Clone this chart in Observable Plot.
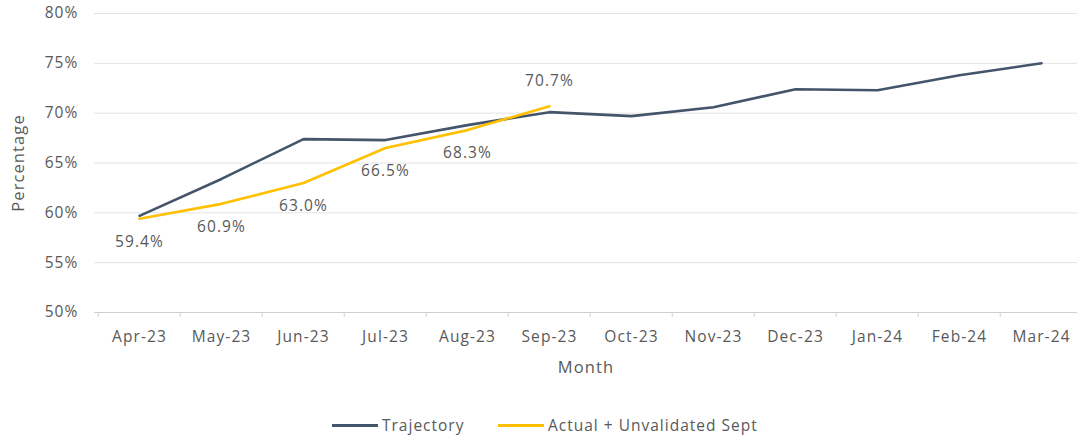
<!DOCTYPE html>
<html>
<head>
<meta charset="utf-8">
<script src="https://cdn.jsdelivr.net/npm/d3@7"></script>
<script src="https://cdn.jsdelivr.net/npm/@observablehq/plot@0.6"></script>
<style>
  body { margin: 0; background: #fff; font-family: "Open Sans", sans-serif; }
  #chart { width: 1077px; }
  #legend { position: relative; width: 1077px; height: 38px; font-size: 15.5px; color: #595959; letter-spacing: 1px; }
  #legend .item { position: absolute; top: 12px; display: flex; align-items: center; height: 26px; white-space: nowrap; }
  #legend .sw { display: inline-block; width: 46px; height: 3px; margin-right: 4px; }
</style>
</head>
<body>
<div id="chart"></div>
<div id="legend"></div>
<script>
const months = ["Apr-23","May-23","Jun-23","Jul-23","Aug-23","Sep-23","Oct-23","Nov-23","Dec-23","Jan-24","Feb-24","Mar-24"];
const trajectory = [59.7, 63.4, 67.4, 67.3, 68.8, 70.1, 69.7, 70.6, 72.4, 72.3, 73.8, 75.0];
const actual = [59.4, 60.9, 63.0, 66.5, 68.3, 70.7];
const yTicks = [50, 55, 60, 65, 70, 75, 80];
const seriesNames = ["Trajectory", "Actual + Unvalidated Sept"];
const colors = ["#44546A", "#FFC000"];

const trajData = months.map((m, i) => ({month: m, value: trajectory[i]}));
const actData = actual.map((v, i) => ({month: months[i], value: v, last: i === actual.length - 1}));

const step = (1085 - 94) / months.length;
const textColor = "#595959";

const plot = Plot.plot({
  width: 1077,
  height: 400,
  marginLeft: 94,
  marginRight: 0,
  marginTop: 13,
  marginBottom: 88,
  style: {fontFamily: "Open Sans, sans-serif", fontSize: "15.5px", color: textColor, letterSpacing: "1.1px"},
  x: {type: "point", domain: months, range: [94, 1085], padding: 0.5},
  y: {domain: [50, 80], ticks: yTicks},
  marks: [
    Plot.ruleY(yTicks.filter(t => t > 50), {stroke: "#e3e3e3", strokeWidth: 1}),
    Plot.ruleY([50], {stroke: "#d0d0d0", strokeWidth: 1}),
    Plot.ruleX(months, {x: d => d, dx: -step / 2, y1: 50, y2: 49.5, stroke: "#d0d0d0"}),
    Plot.axisY({ticks: yTicks, tickSize: 0, tickPadding: 16, tickFormat: d => d + "%", fill: textColor, label: null}),
    Plot.axisX({tickSize: 0, tickPadding: 18, fill: textColor, label: null}),
    Plot.text(["Month"], {frameAnchor: "bottom", dy: 60, fill: textColor, fontSize: 16.5}),
    Plot.text(["Percentage"], {frameAnchor: "left", textAnchor: "middle", dx: -76, rotate: -90, fill: textColor, fontSize: 16.5}),
    Plot.line(trajData, {x: "month", y: "value", stroke: colors[0], strokeWidth: 2.6}),
    Plot.line(actData, {x: "month", y: "value", stroke: colors[1], strokeWidth: 2.6}),
    Plot.text(actData.filter(d => !d.last), {x: "month", y: "value", text: d => d.value.toFixed(1) + "%", dy: 23, fill: textColor}),
    Plot.text(actData.filter(d => d.last), {x: "month", y: "value", text: d => d.value.toFixed(1) + "%", dy: -25, fill: textColor})
  ]
});

document.getElementById("chart").appendChild(plot);
const legendEl = document.getElementById("legend");
const lefts = [332, 498];
seriesNames.forEach((name, i) => {
  const item = document.createElement("div");
  item.className = "item";
  item.style.left = lefts[i] + "px";
  const sw = document.createElement("span");
  sw.className = "sw";
  sw.style.background = colors[i];
  item.appendChild(sw);
  item.appendChild(document.createTextNode(name));
  legendEl.appendChild(item);
});
</script>
</body>
</html>
